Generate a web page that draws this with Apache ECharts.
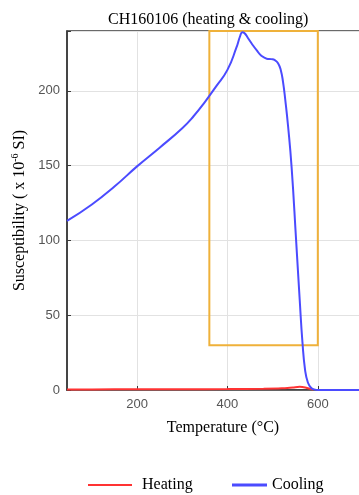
<!DOCTYPE html>
<html>
<head>
<meta charset="utf-8">
<script src="https://cdn.jsdelivr.net/npm/echarts@6/dist/echarts.min.js"></script>
<style>
  html, body { margin: 0; padding: 0; background: #fff; }
  #chart { width: 359px; height: 495px; }
</style>
</head>
<body>
<div id="chart"></div>
<script>
  // cooling curve (temperature, susceptibility)
  var coolTemp = [45, 100, 150, 200, 250, 300, 325, 350, 375, 400, 420, 428, 433, 438, 445, 455, 465, 475, 487, 497, 505, 512, 518, 523, 528, 534, 542, 552, 560, 566, 572, 578, 585, 592, 600, 650, 700];
  var coolVal = [113, 124, 136, 149.5, 162, 175, 183, 192.5, 203, 214, 229, 236.5, 239.2, 238.5, 235.5, 231, 227, 223.5, 221.5, 221.2, 220.5, 218.5, 214, 206, 194, 177, 149, 100, 60, 32, 13, 5, 1.5, 0.4, 0, 0, 0];
  // heating curve
  var heatTemp = [45, 100, 200, 300, 400, 480, 520, 545, 560, 572, 582, 590];
  var heatVal = [0.4, 0.4, 0.5, 0.5, 0.6, 0.8, 1.1, 1.7, 2.1, 1.7, 0.8, 0.3];
  // tick labels
  var xTicks = [200, 400, 600];
  var yTicks = [0, 50, 100, 150, 200];
  // highlighted box
  var boxX = [360, 600];
  var boxY = [30, 240];

  var toPairs = function (xs, ys) {
    return xs.map(function (x, i) { return [x, ys[i]]; });
  };

  var serif = 'Liberation Serif';
  var myChart = echarts.init(document.getElementById('chart'));

  var option = {
    animation: false,
    title: {
      text: 'CH160106 (heating & cooling)',
      left: 103,
      top: 7,
      textStyle: { fontFamily: serif, fontSize: 16, fontWeight: 'normal', color: '#000' }
    },
    legend: [
      {
        data: ['Heating'],
        icon: 'rect',
        left: 83, top: 472,
        itemWidth: 44, itemHeight: 2,
        textStyle: { fontFamily: serif, fontSize: 16, color: '#000', padding: [0, 0, 0, 5] }
      },
      {
        data: ['Cooling'],
        icon: 'rect',
        left: 227, top: 472,
        itemWidth: 35, itemHeight: 3,
        textStyle: { fontFamily: serif, fontSize: 16, color: '#000' }
      }
    ],
    grid: {
      left: 67, top: 31, bottom: 105, width: 296,
      outerBoundsMode: 'none',
      show: true, borderColor: '#3a3a3a', borderWidth: 1.5
    },
    xAxis: {
      type: 'value',
      min: 45, max: 700,
      name: 'Temperature (°C)',
      nameLocation: 'middle',
      nameGap: 30,
      nameTextStyle: { fontFamily: serif, fontSize: 16, color: '#000', padding: [0, 0, 0, 16] },
      axisLine: { lineStyle: { color: '#3a3a3a', width: 1.5 } },
      axisTick: { inside: true, length: 4, customValues: xTicks, lineStyle: { color: '#3a3a3a' } },
      axisLabel: { customValues: xTicks, margin: 8, fontFamily: 'Liberation Sans', fontSize: 13, color: '#555' },
      splitLine: { show: true, lineStyle: { color: '#e2e2e2', width: 1 } }
    },
    yAxis: {
      type: 'value',
      min: 0, max: 240, interval: 50,
      name: '{a|Susceptibility ( x 10}{s|-6}{a| SI)}',
      nameLocation: 'middle',
      nameGap: 38,
      nameTextStyle: {
        rich: {
          a: { fontFamily: serif, fontSize: 16, color: '#000' },
          s: { fontFamily: serif, fontSize: 10, color: '#000', padding: [0, 0, 8, 0] }
        }
      },
      axisLine: { lineStyle: { color: '#3a3a3a', width: 1.5 } },
      axisTick: { inside: true, length: 4, lineStyle: { color: '#3a3a3a' } },
      axisLabel: { customValues: yTicks, margin: 7, fontFamily: 'Liberation Sans', fontSize: 13, color: '#555' },
      splitLine: { show: true, lineStyle: { color: '#e2e2e2', width: 1 } }
    },
    series: [
      {
        name: 'Heating',
        type: 'line',
        data: toPairs(heatTemp, heatVal),
        symbol: 'none',
        smooth: 0.3,
        color: '#ff3333',
        lineStyle: { color: '#ff3333', width: 2 },
        z: 3
      },
      {
        name: 'Cooling',
        type: 'line',
        data: toPairs(coolTemp, coolVal),
        symbol: 'none',
        smooth: 0.5,
        color: '#4b4bff',
        lineStyle: { color: '#4b4bff', width: 2 },
        z: 4,
        markArea: {
          silent: true,
          itemStyle: { color: 'rgba(0,0,0,0)', borderColor: '#efb13a', borderWidth: 2 },
          data: [[{ xAxis: boxX[0], yAxis: boxY[0] }, { xAxis: boxX[1], yAxis: boxY[1] }]]
        }
      }
    ]
  };

  myChart.setOption(option);
</script>
</body>
</html>
